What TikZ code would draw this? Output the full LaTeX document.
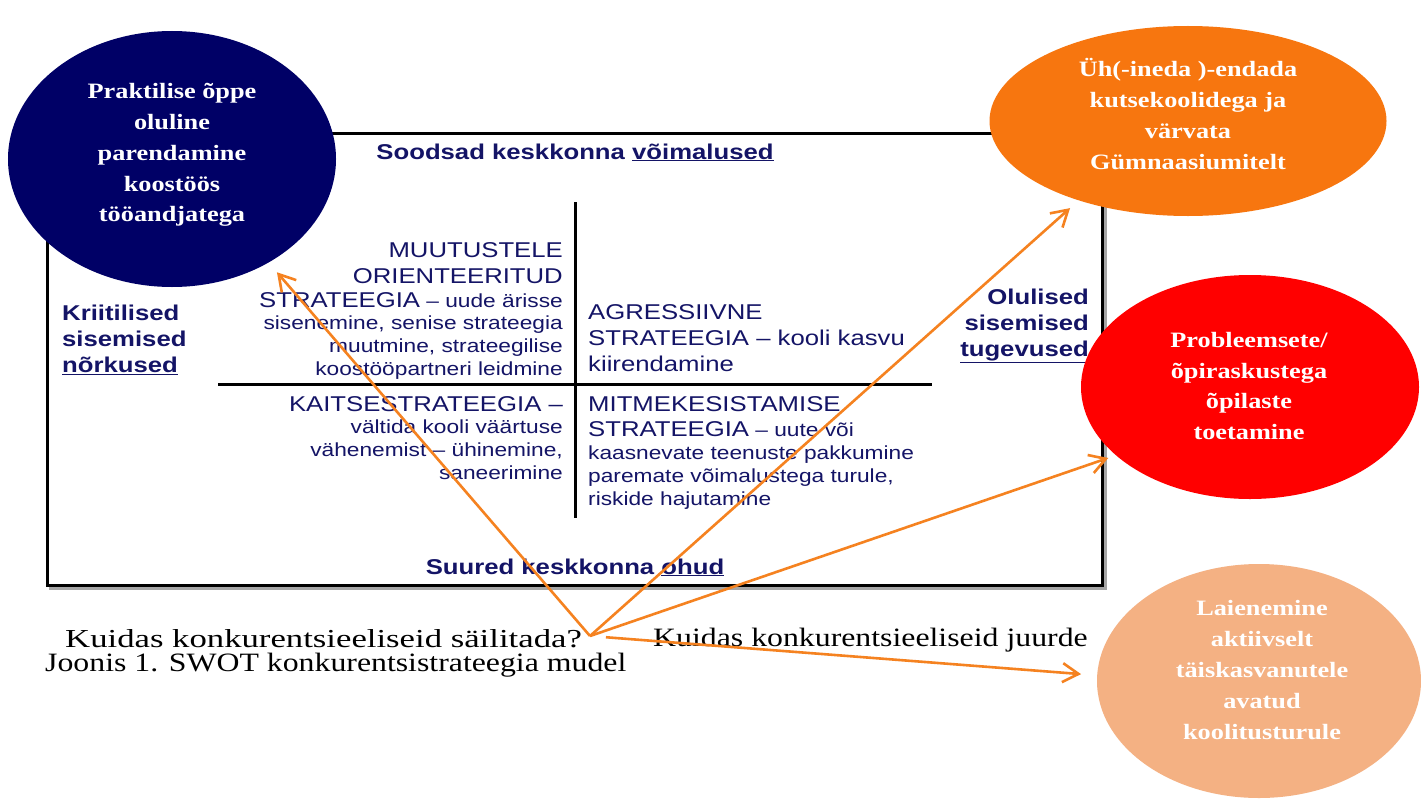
\documentclass[tikz,border=0pt]{standalone}
\usepackage{fontspec}
\usepackage{tikz}
\usetikzlibrary{arrows.meta,shapes.geometric,positioning}

\newfontfamily\swotsans[FakeStretch=1.2]{Liberation Sans}
\newfontfamily\swotserif[FakeStretch=1.2]{Liberation Serif}
\newfontfamily\swotserifwide[FakeStretch=1.34]{Liberation Serif}
\newcommand{\suured}[1]{{\fontsize{21.5}{26}\selectfont #1}}

\definecolor{swotnavy}{HTML}{141466}
\definecolor{tumesinine}{HTML}{000066}
\definecolor{oranz}{HTML}{F7760F}
\definecolor{punane}{HTML}{FF0000}
\definecolor{virsik}{HTML}{F4B183}
\definecolor{noolevarv}{HTML}{F58220}

\begin{document}
\begin{tikzpicture}[x=1bp, y=-1bp,
	pall/.style={ellipse, inner sep=0pt},
	palltekst/.style={align=center, text=white, font=\swotserif\bfseries\fontsize{22}{31}\selectfont},
	tekst/.style={inner sep=0pt, text=swotnavy, font=\swotsans\fontsize{19}{23}\selectfont},
	suur/.style={inner sep=0pt, text=swotnavy, font=\swotsans\fontsize{21.5}{26}\selectfont},
	pais/.style={inner sep=0pt, text=swotnavy, font=\swotsans\bfseries\fontsize{21.5}{26}\selectfont},
	pealdis/.style={inner sep=0pt, anchor=base west, font=\swotserif\fontsize{26.6}{30}\selectfont},
	noolestiil/.style={draw=noolevarv, line width=2.6bp, -{Straight Barb[length=16bp,width=19bp]}}]
	\fill[white] (0,0) rectangle (1421,798);
	\useasboundingbox (0,0) rectangle (1421,798);

	\draw[gray!70, line width=3bp] (50,136) rectangle (1105,588);
	\draw[line width=3bp, fill=white] (47,133) rectangle (1102,585);
	\draw[line width=3bp] (575,202) -- (575,518);
	\draw[line width=3bp] (218,384) -- (932,384);

	\node[pais, anchor=base] (voimalused) at (575,159) {Soodsad keskkonna \underline{võimalused}};
	\node[pais, anchor=base] (ohud) at (575,574) {Suured keskkonna \underline{ohud}};
	\node[pais, anchor=west, align=left] (norkused) at (62,340) {Kriitilised\\sisemised\\\underline{nõrkused}};
	\node[pais, anchor=east, align=right] (tugevused) at (1089,326) {Olulised\\sisemised\\\underline{tugevused}};

	\node[tekst, anchor=east, align=right] (muutustele) at (563,311) {\suured{MUUTUSTELE}\\[3bp]\suured{ORIENTEERITUD}\\[1bp]\suured{STRATEEGIA} – uude ärisse\\sisenemine, senise strateegia\\muutmine, strateegilise\\koostööpartneri leidmine};
	\node[suur, anchor=west, align=left] (agressiivne) at (588,338) {AGRESSIIVNE\\STRATEEGIA – kooli kasvu\\kiirendamine};
	\node[tekst, anchor=east, align=right] (kaitse) at (563,438) {\suured{KAITSESTRATEEGIA –}\\vältida kooli väärtuse\\vähenemist – ühinemine,\\saneerimine};
	\node[tekst, anchor=west, align=left] (mitmekesistamine) at (588,453) {\suured{MITMEKESISTAMISE}\\[2bp]\suured{STRATEEGIA} – uute või\\kaasnevate teenuste pakkumine\\paremate võimalustega turule,\\riskide hajutamine};

	\node[pall, fill=tumesinine, minimum width=328bp, minimum height=256bp] (praktika) at (172,159) {};
	\node[pall, fill=oranz, minimum width=397bp, minimum height=190bp] (yhinemine) at (1188,121) {};
	\node[pall, fill=punane, minimum width=338bp, minimum height=224bp] (probleemsed) at (1250,387) {};
	\node[pall, fill=virsik, minimum width=324bp, minimum height=234bp] (laienemine) at (1259,681) {};

	\node[palltekst] (praktikatekst) at (172,155) {Praktilise õppe\\oluline\\parendamine\\koostöös\\tööandjatega};
	\node[palltekst] (yhinemisetekst) at (1188,114) {Üh(-ineda )-endada\\kutsekoolidega ja\\värvata\\Gümnaasiumitelt};
	\node[palltekst] (probleemsetekst) at (1249,386) {Probleemsete/\\õpiraskustega\\õpilaste\\toetamine};
	\node[palltekst] (laienemisetekst) at (1262,670) {Laienemine\\aktiivselt\\täiskasvanutele\\avatud\\koolitusturule};

	\node[pealdis, font=\swotserifwide\fontsize{26}{30}\selectfont] (sailitada) at (65,647) {Kuidas konkurentsieeliseid säilitada?};
	\node[pealdis] (joonis) at (45,671) {Joonis 1. SWOT konkurentsistrateegia mudel};
	\node[pealdis] (juurde) at (653,646) {Kuidas konkurentsieeliseid juurde};

	\coordinate (allikas) at (590,636);
	\draw[noolestiil, shorten >=12.7bp] (allikas) -- (praktika.-47);
	\draw[noolestiil, shorten >=11.5bp] (allikas) -- (yhinemine.-144);
	\draw[noolestiil, shorten >=8bp] (allikas) -- (probleemsed.207);
	\draw[noolestiil, shorten <=16bp, shorten >=16bp] (allikas) -- (laienemine.178);
\end{tikzpicture}
\end{document}
